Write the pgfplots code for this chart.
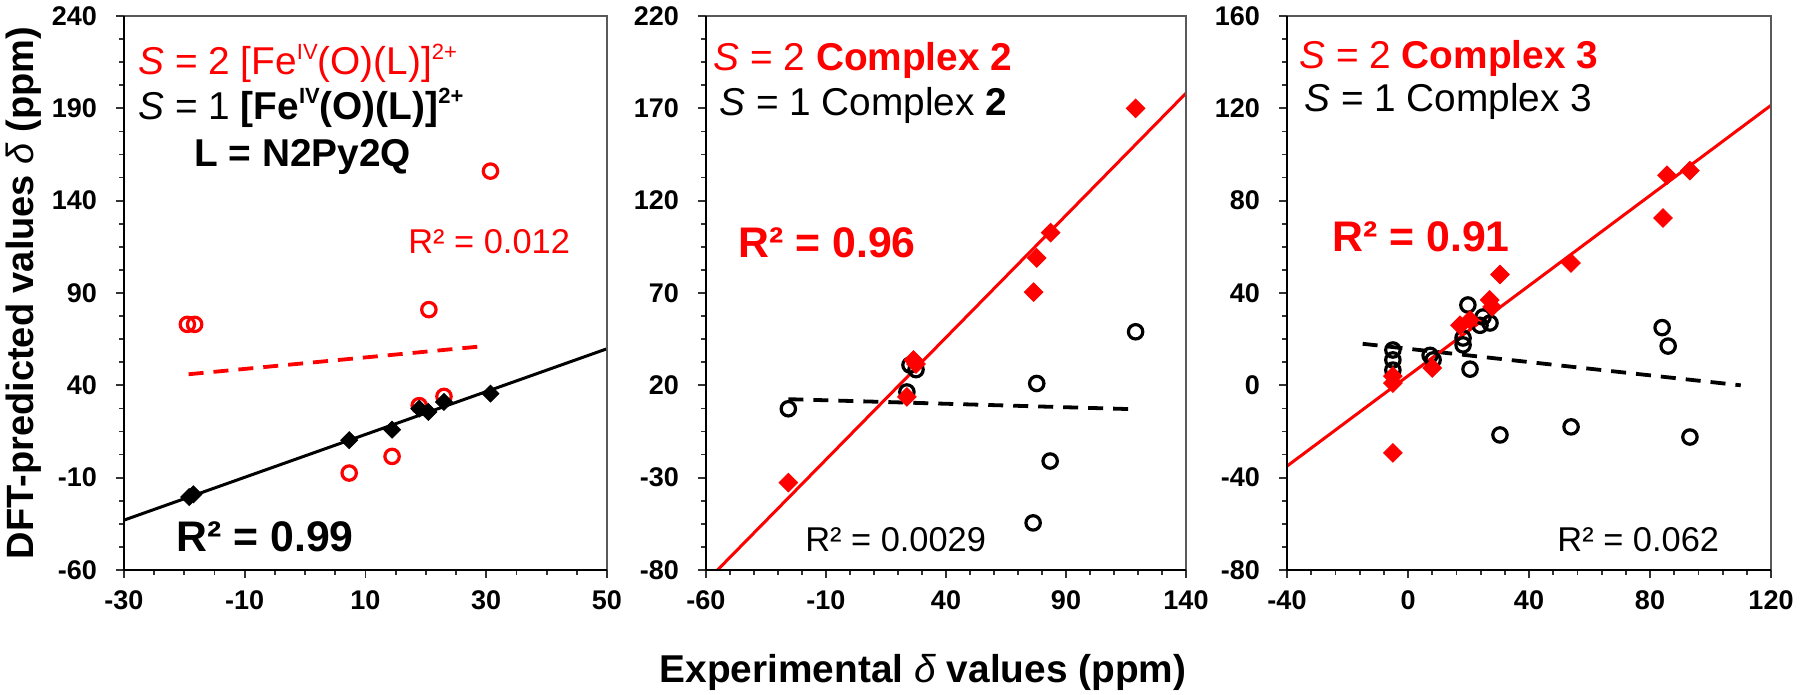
\documentclass[border=0pt]{standalone}
\usepackage{pgfplots}
\pgfplotsset{compat=1.18}
\usepackage{fontspec}
\setmainfont{Liberation Sans}
\definecolor{pred}{RGB}{255,0,0}
\newcommand\tfont{\fontsize{19.4}{22}\selectfont}
\newcommand\rbig{\fontsize{21.4}{24}\selectfont\bfseries}
\newcommand\rsmall{\fontsize{17.2}{20}\selectfont}
\newcommand\sups[1]{\raisebox{0.75ex}{\fontsize{11}{11}\selectfont #1}}
\pgfplotsset{
 panel/.style={
  scale only axis, height=277pt,
  axis line style={draw=none},
  xtick pos=bottom, ytick pos=left, tick align=outside,
  major tick length=4pt, minor tick length=2.5pt,
  every tick/.style={black!80, line width=0.9pt},
  ticklabel style={font=\fontsize{13.5}{13.5}\selectfont\bfseries},
  xticklabel shift=3pt, yticklabel shift=6pt,
  after end axis/.append code={
    \draw[black!65, line width=1pt] (rel axis cs:0,1) -- (rel axis cs:1,1) -- (rel axis cs:1,0);
    \draw[black, line width=1.2pt] (rel axis cs:0,1) -- (rel axis cs:0,0) -- (rel axis cs:1,0);
  },
 },
 redcirc/.style={only marks, mark=o, mark size=3.6pt, mark options={line width=1.6pt, draw=pred}},
 blkcirc/.style={only marks, mark=o, mark size=3.6pt, mark options={line width=1.6pt, draw=black}},
 blkdiam/.style={only marks, mark=square*, mark size=3pt, mark options={rotate=45, fill=black, draw=black}},
 reddiam/.style={only marks, mark=square*, mark size=3.3pt, mark options={rotate=45, fill=pred, draw=pred}},
 fitline/.style={no marks, line width=1.5pt},
 dashline/.style={no marks, line width=1.9pt, dash pattern=on 7.5pt off 5pt},
}
\begin{document}
\begin{tikzpicture}
\useasboundingbox (0,0) rectangle (900pt,347.5pt);
% ---------- Panel 1
\begin{axis}[panel, at={(62pt,62.5pt)}, anchor=south west, width=241.5pt,
  xmin=-30, xmax=50, ymin=-60, ymax=240,
  xtick={-30,-10,10,30,50}, xticklabels={-30,-10,10,30,50},
  ytick={-60,-10,40,90,140,190,240}, yticklabels={-60,-10,40,90,140,190,240},
  minor x tick num=3, minor y tick num=3]
\addplot[redcirc] coordinates {(-19.5,73) (-18.3,73) (30.7,156) (20.5,81) (7.3,-7.5) (14.4,1.5) (18.9,29) (23,34)};
\addplot[dashline, pred] coordinates {(-19.3,46) (28.9,61)};
\addplot[blkdiam] coordinates {(-19.2,-20.5) (-18.5,-19) (7.3,10.3) (14.4,16) (18.9,27.4) (20.4,25.6) (23,31) (30.7,35.5)};
\addplot[fitline, black] coordinates {(-30,-33) (50,59.8)};
\node[anchor=west, inner sep=0pt, text=pred, font=\tfont] at (rel axis cs:0.029,0.915) {\textit{S} = 2 [Fe\sups{IV}(O)(L)]\sups{2+}};
\node[anchor=west, inner sep=0pt, text=black, font=\tfont] at (rel axis cs:0.029,0.834) {\textit{S} = 1 \textbf{[Fe\sups{IV}(O)(L)]\sups{2+}}};
\node[anchor=west, inner sep=0pt, text=black, font=\tfont\bfseries] at (rel axis cs:0.145,0.745) {L = N2Py2Q};
\node[anchor=west, inner sep=0pt, text=pred, font=\rsmall] at (rel axis cs:0.588,0.592) {R² = 0.012};
\node[anchor=west, inner sep=0pt, text=black, font=\rbig] at (rel axis cs:0.108,0.060) {R² = 0.99};
\end{axis}
% ---------- Panel 2
\begin{axis}[panel, at={(353pt,62.5pt)}, anchor=south west, width=240pt,
  xmin=-60, xmax=140, ymin=-80, ymax=220,
  xtick={-60,-10,40,90,140}, xticklabels={-60,-10,40,90,140},
  ytick={-80,-30,20,70,120,170,220}, yticklabels={-80,-30,20,70,120,170,220},
  minor x tick num=4, minor y tick num=3]
\addplot[blkcirc] coordinates {(-25.7,7.3) (77.8,21) (83.4,-21) (76.3,-54.5) (119,49) (25,31) (27.5,28.5) (23.7,16.4)};
\addplot[dashline, black] coordinates {(-25.7,12.5) (120,7)};
\addplot[reddiam] coordinates {(119,170) (83.6,102.7) (77.8,89) (76.5,70.5) (-25.7,-32.7) (26.5,33.7) (27.5,31.5) (23.7,13.7)};
\addplot[fitline, pred] coordinates {(-55.2,-80) (140,178.2)};
\node[anchor=west, inner sep=0pt, text=pred, font=\tfont] at (rel axis cs:0.015,0.92) {\textit{S} = 2 \textbf{Complex 2}};
\node[anchor=west, inner sep=0pt, text=black, font=\tfont] at (rel axis cs:0.027,0.839) {\textit{S} = 1 Complex \textbf{2}};
\node[anchor=west, inner sep=0pt, text=pred, font=\rbig] at (rel axis cs:0.067,0.590) {R² = 0.96};
\node[anchor=west, inner sep=0pt, text=black, font=\rsmall] at (rel axis cs:0.206,0.054) {R² = 0.0029};
\end{axis}
% ---------- Panel 3
\begin{axis}[panel, at={(643.5pt,62.5pt)}, anchor=south west, width=242pt,
  xmin=-40, xmax=120, ymin=-80, ymax=160,
  xtick={-40,0,40,80,120}, xticklabels={-40,0,40,80,120},
  ytick={-80,-40,0,40,80,120,160}, yticklabels={-80,-40,0,40,80,120,160},
  minor x tick num=4, minor y tick num=3]
\addplot[blkcirc] coordinates {(30.4,-21.5) (53.9,-18) (93.2,-22.4) (20.5,7) (84,25) (86,17) (19.8,34.8) (23.8,26) (27.1,27) (24.8,29.6) (18.2,17.5) (18.2,20.5) (-5,15.3) (-5,11) (-5,6.6) (7.3,13) (8.3,11)};
\addplot[dashline, black] coordinates {(-15,18) (110,0)};
\addplot[reddiam] coordinates {(85.6,91) (93.2,93) (84.3,72.5) (53.9,53) (30.4,48) (-5,-29.3) (27,37) (27.8,34) (17.2,26) (20.5,28.3) (-5,4) (-5,1) (8,7.5)};
\addplot[fitline, pred] coordinates {(-40,-35) (120,121.3)};
\node[anchor=west, inner sep=0pt, text=pred, font=\tfont] at (rel axis cs:0.025,0.924) {\textit{S} = 2 \textbf{Complex 3}};
\node[anchor=west, inner sep=0pt, text=black, font=\tfont] at (rel axis cs:0.035,0.845) {\textit{S} = 1 Complex 3};
\node[anchor=west, inner sep=0pt, text=pred, font=\rbig] at (rel axis cs:0.093,0.601) {R² = 0.91};
\node[anchor=west, inner sep=0pt, text=black, font=\rsmall] at (rel axis cs:0.558,0.054) {R² = 0.062};
\end{axis}
% axis titles
\node[rotate=90, anchor=base, font=\fontsize{19}{22}\selectfont\bfseries] at (16.5pt,201pt) {DFT-predicted values \textmd{\textit{δ}} (ppm)};
\node[anchor=base, font=\fontsize{19.4}{22}\selectfont\bfseries] at (461.5pt,6pt) {Experimental \textmd{\textit{δ}} values (ppm)};
\end{tikzpicture}
\end{document}
